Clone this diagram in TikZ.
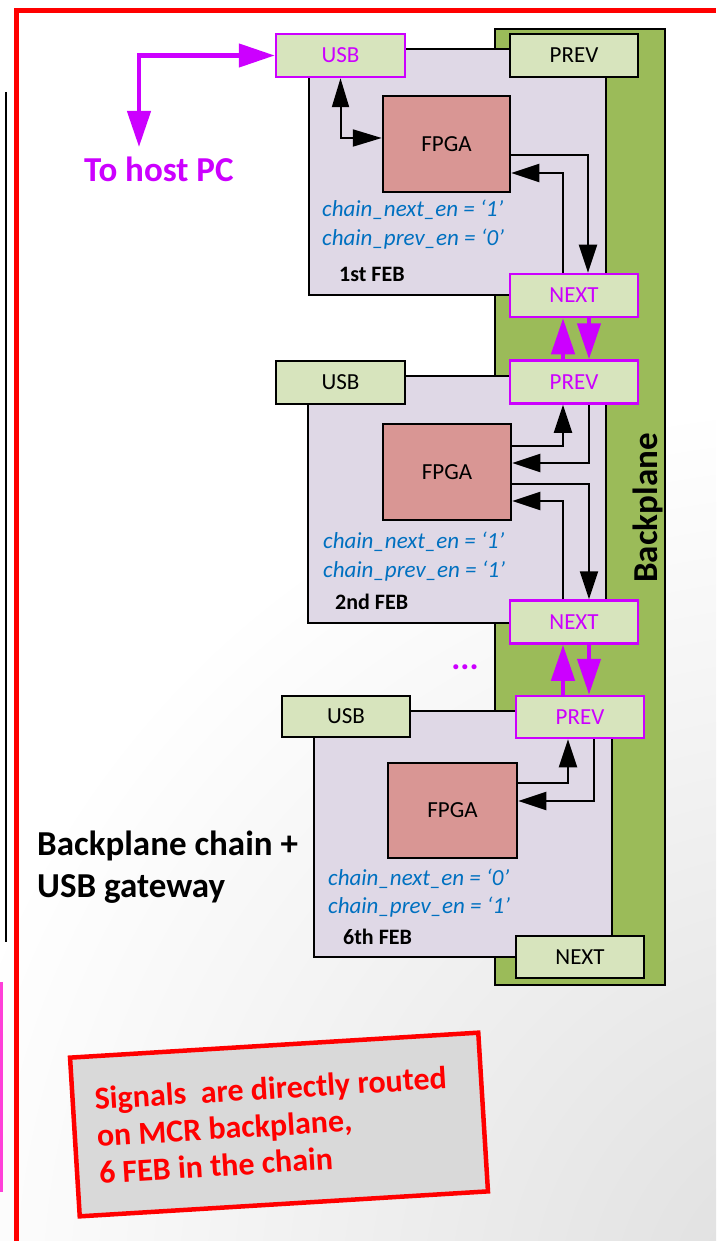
\documentclass[tikz,border=0pt]{standalone}
\usepackage{fontspec}
\setmainfont{Carlito}
\usetikzlibrary{arrows.meta}
\definecolor{bpgreen}{HTML}{9BBB59}
\definecolor{boxgreen}{HTML}{D7E4BD}
\definecolor{board}{HTML}{DFD8E6}
\definecolor{fpgared}{HTML}{D99694}
\definecolor{mag}{HTML}{CC00FF}
\definecolor{chainblue}{HTML}{0070C0}
\definecolor{notegray}{HTML}{D9D9D9}
\definecolor{pinkbar}{HTML}{FF3FD8}
\newcommand{\fsz}[2]{\fontsize{#1}{#2}\selectfont}
\begin{document}
\begin{tikzpicture}[x=1pt,y=-1pt,
  conbox/.style={draw=black,fill=boxgreen,line width=2.5pt,minimum width=128pt,minimum height=43pt,inner sep=0pt,font=\fsz{23}{27}},
  magbox/.style={conbox,draw=mag,text=mag},
  boardbox/.style={draw=black,fill=board,line width=2pt},
  fpgabox/.style={draw=black,fill=fpgared,line width=2.5pt,minimum width=128pt,minimum height=96pt,inner sep=0pt,font=\fsz{23}{27}},
  sig/.style={draw=black,line width=2pt,-{Triangle[length=28pt,width=18pt]}},
  bisig/.style={draw=black,line width=2pt,{Triangle[length=29pt,width=17pt]}-{Triangle[length=29pt,width=17pt]}},
  msig/.style={draw=mag,line width=4.5pt,-{Triangle[length=36pt,width=23pt]}},
  chaintxt/.style={anchor=base west,text=chainblue,inner sep=0pt,font=\fsz{23}{27}\itshape},
  febtxt/.style={anchor=base west,inner sep=0pt,font=\fsz{22}{26}\bfseries},
]
\useasboundingbox (0,0) rectangle (716,1241);
% background shading
\begin{scope}
\clip (0,0) rectangle (716,1241);
\shade[inner color=black!13,outer color=white] (820,1300) circle (900);
\end{scope}
% frames at left
\draw[red,line width=5pt] (16,1241) -- (16,11) -- (716,11);
\draw[black,line width=2pt] (5.5,92) -- (5.5,942);
\fill[pinkbar] (0,982) rectangle (3,1192);
% backplane
\draw[fill=bpgreen,line width=2.5pt] (495,29) rectangle (665,985);
\node[rotate=90,font=\fsz{35}{40}\bfseries,inner sep=0pt] (bptxt) at (648,508) {Backplane};
% boards
\node[boardbox,minimum width=297pt,minimum height=246pt] (board1) at (457.5,172) {};
\node[boardbox,minimum width=298pt,minimum height=247pt] (board2) at (457,499.5) {};
\node[boardbox,minimum width=298pt,minimum height=246pt] (board6) at (463,834) {};
% connector boxes
\node[magbox,minimum width=129pt] (usb1) at (340.5,55.5) {USB};
\node[conbox] (prev1) at (574,55.5) {PREV};
\node[magbox] (next1) at (574,295.5) {NEXT};
\node[conbox,minimum width=129pt] (usb2) at (340.5,382.5) {USB};
\node[magbox] (prev2) at (574,382) {PREV};
\node[magbox] (next2) at (574,622) {NEXT};
\node[conbox,minimum height=41pt] (usb6) at (346,716.5) {USB};
\node[magbox,minimum height=42pt] (prev6) at (580,717) {PREV};
\node[conbox,minimum height=42pt] (next6) at (580,957) {NEXT};
% FPGAs
\node[fpgabox,minimum width=127pt] (fpga1) at (446.5,144) {FPGA};
\node[fpgabox] (fpga2) at (447,472) {FPGA};
\node[fpgabox,minimum width=129pt,minimum height=95pt] (fpga6) at (452.5,810.5) {FPGA};
% texts
\node[chaintxt] (c1n) at (322,217) {chain\_next\_en = ‘1’};
\node[chaintxt] (c1p) at (322,245) {chain\_prev\_en = ‘0’};
\node[febtxt] (f1) at (339,281) {1st FEB};
\node[chaintxt] (c2n) at (323,548) {chain\_next\_en = ‘1’};
\node[chaintxt] (c2p) at (323,577) {chain\_prev\_en = ‘1’};
\node[febtxt] (f2) at (335,609) {2nd FEB};
\node[chaintxt] (c6n) at (328,885) {chain\_next\_en = ‘0’};
\node[chaintxt] (c6p) at (328,913) {chain\_prev\_en = ‘1’};
\node[febtxt] (f6) at (343,944) {6th FEB};
% FEB1 signals
\draw[bisig] (usb1.south) |- ([yshift=6pt]fpga1.west);
\draw[sig] ([yshift=-11pt]fpga1.east) -| ([xshift=14pt]next1.north);
\draw[sig] ([xshift=-11pt]next1.north) |- ([yshift=-29pt]fpga1.east);
% FEB2 signals
\draw[sig] ([yshift=26pt]fpga2.east) -| ([xshift=-11pt]prev2.south);
\draw[sig] ([xshift=15pt]prev2.south) |- ([yshift=9pt]fpga2.east);
\draw[sig] ([yshift=-12pt]fpga2.east) -| ([xshift=15pt]next2.north);
\draw[sig] ([xshift=-11pt]next2.north) |- ([yshift=-29pt]fpga2.east);
% FEB6 signals
\draw[sig] ([yshift=27.5pt]fpga6.east) -| ([xshift=-12pt]prev6.south);
\draw[sig] ([xshift=14pt]prev6.south) |- ([yshift=9.5pt]fpga6.east);
% backplane chain
\draw[msig] ([xshift=-11pt]prev2.north) -- ([xshift=-11pt]next1.south);
\draw[msig] ([xshift=15pt]next1.south) -- ([xshift=15pt]prev2.north);
\draw[msig] ([xshift=-17pt]prev6.north) -- ([xshift=-11pt]next2.south);
\draw[msig] ([xshift=15pt]next2.south) -- ([xshift=9pt]prev6.north);
% host
\coordinate (host) at (139,147);
\draw[draw=mag,line width=4.5pt,{Triangle[length=36pt,width=23pt]}-{Triangle[length=36pt,width=23pt]}] (host) |- (usb1.west);
\node[anchor=base west,inner sep=0pt,text=mag,font=\fsz{35}{40}\bfseries] (hosttxt) at (84,182) {To host PC};
\node[inner sep=0pt,text=mag,font=\fsz{34}{40}\bfseries] (dots) at (465,667) {...};
% left caption
\node[anchor=base west,inner sep=0pt,align=left,font=\fsz{35}{42}\bfseries] (cap) at (37,897) {Backplane chain +\\USB gateway};
% note
\node[draw=red,fill=notegray,line width=4.5pt,rotate=3.5,minimum width=409pt,minimum height=159pt,
  text width=365pt,inner xsep=22pt,align=left,text=red,font=\fsz{32}{37}\bfseries] (note) at (279,1124.5)
  {\spaceskip=0.226em\relax Signals\hspace{0.452em}are directly routed\\on MCR backplane,\\6 FEB in the chain};
\end{tikzpicture}
\end{document}
